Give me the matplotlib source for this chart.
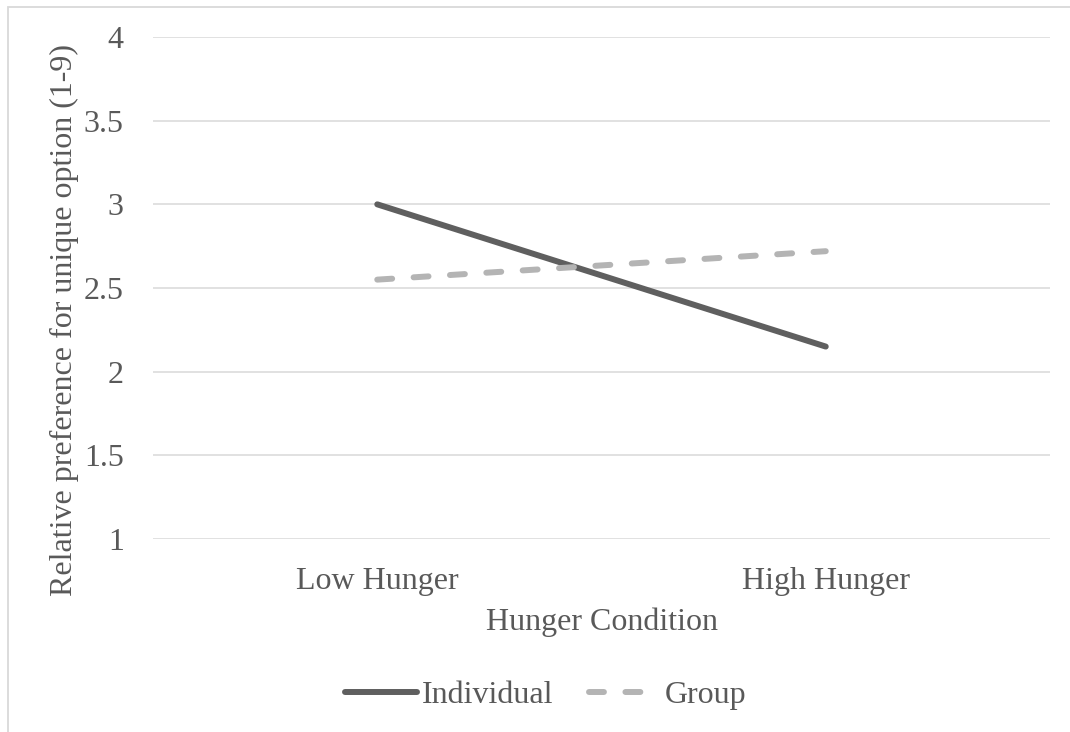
import matplotlib
matplotlib.use("Agg")
import matplotlib.pyplot as plt
from matplotlib.patches import Rectangle

categories = ["Low Hunger", "High Hunger"]
individual = [3.0, 2.15]
group = [2.55, 2.72]
yticks = [1, 1.5, 2, 2.5, 3, 3.5, 4]
ytick_labels = ["1", "1.5", "2", "2.5", "3", "3.5", "4"]

plt.rcParams['font.family'] = ['Liberation Serif', 'DejaVu Serif']
txt = '#595959'
fs = 23

fig = plt.figure(figsize=(10.7, 7.32), dpi=100)
ax = fig.add_axes([153/1070, 1-539/732, (1050-153)/1070, (539-37)/732])

x = list(range(len(categories)))
ax.plot(x, individual, color='#5f5f5f', lw=4.3, solid_capstyle='round', label='Individual')
ax.plot(x, group, color='#b4b4b4', lw=4.3, linestyle=(0, (2.5, 3.6)),
        dash_capstyle='round', label='Group')

ax.set_xlim(-0.5, 1.5)
ax.set_ylim(1, 4)
ax.set_yticks(yticks)
ax.set_yticklabels(ytick_labels)
ax.set_xticks(x)
ax.set_xticklabels(categories)
ax.tick_params(axis='y', length=0, pad=21, labelsize=fs, labelcolor=txt)
ax.tick_params(axis='x', length=0, pad=20.5, labelsize=fs, labelcolor=txt)
ax.grid(axis='y', color='#d9d9d9', lw=1.1)
ax.set_axisbelow(True)
for s in ax.spines.values():
    s.set_visible(False)

ax.set_xlabel("Hunger Condition", fontsize=fs, color=txt, labelpad=8)
fig.text(64/1070, 1-320/732, "Relative preference for unique option (1-9)", rotation=90,
         ha='center', va='center', fontsize=fs, color=txt)

leg = ax.legend(loc='center', bbox_to_anchor=(546/1070, 1-695/732), bbox_transform=fig.transFigure,
                ncol=2, frameon=False, fontsize=fs, handlelength=2.25, handletextpad=0.15,
                columnspacing=1.1, labelcolor=txt)

fig.patches.append(Rectangle((8/1070, -0.1), 1.2, 1-6.5/732+0.1, transform=fig.transFigure,
                             fill=False, edgecolor='#d9d9d9', lw=1.3, figure=fig))

fig.savefig("out.png", dpi=100)
